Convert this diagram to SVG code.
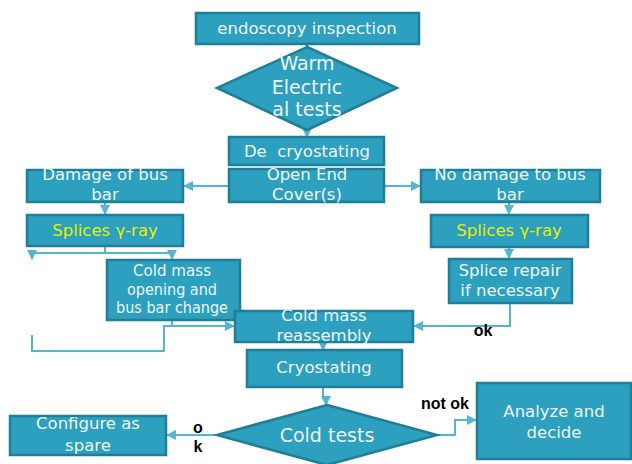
<svg xmlns="http://www.w3.org/2000/svg" width="632" height="464" viewBox="0 0 632 464">
<defs>
<style>
.box{fill:#2d9fbf;stroke:#1f7e98;stroke-width:2.5}
.t{font-family:"DejaVu Sans",Verdana,sans-serif;font-size:16.5px;fill:#eef7fa;text-anchor:middle}
.d{font-size:19px}
.y{fill:#e8f000}
.c{fill:none;stroke:#52b6d1;stroke-width:2}
.lbl{font-family:"Liberation Sans",Arial,sans-serif;font-weight:bold;font-size:16px;fill:#000}
</style>
<marker id="a" viewBox="0 0 10 10" refX="9" refY="5" markerWidth="5" markerHeight="5" orient="auto">
<path d="M0,0 L10,5 L0,10 z" fill="#52b6d1"/>
</marker>
</defs>
<rect width="632" height="464" fill="#fff"/>
<g id="connectors">
<path class="c" d="M307,44 V48" marker-end="url(#a)"/>
<path class="c" d="M307,130 V137" marker-end="url(#a)"/>
<path class="c" d="M229,186 H184" marker-end="url(#a)"/>
<path class="c" d="M384,186 H420" marker-end="url(#a)"/>
<path class="c" d="M105,202 V214" marker-end="url(#a)"/>
<path class="c" d="M509,202 V214" marker-end="url(#a)"/>
<path class="c" d="M105,246 V253 M32,253 H172"/>
<path class="c" d="M32,253 V259" marker-end="url(#a)"/>
<path class="c" d="M172,253 V259" marker-end="url(#a)"/>
<path class="c" d="M509,247 V258" marker-end="url(#a)"/>
<path class="c" d="M32,335 V351 H164 V326 H234" marker-end="url(#a)"/>
<path class="c" d="M172,320 V326"/>
<path class="c" d="M510,303 V326 H414" marker-end="url(#a)"/>
<path class="c" d="M323,342 V350" marker-end="url(#a)"/>
<path class="c" d="M323,387 V398 H326 V405" marker-end="url(#a)"/>
<path class="c" d="M217,435 H167" marker-end="url(#a)"/>
<path class="c" d="M437,435 H455 V420 H476" marker-end="url(#a)"/>
<text class="lbl" x="483" y="336" text-anchor="middle">ok</text>
<text class="lbl" x="198" y="433" text-anchor="middle">o</text>
<text class="lbl" x="198" y="452" text-anchor="middle">k</text>
<text class="lbl" x="445" y="409" text-anchor="middle">not ok</text>
</g>
<g id="endoscopy">
<rect class="box" x="196" y="13" width="223" height="31"/>
<text class="t" x="307" y="34">endoscopy inspection</text>
</g>
<g id="warm">
<polygon class="box" points="307,47 397,88 307,130 217,88"/>
<text class="t d" x="307" y="70">Warm</text>
<text class="t d" x="307" y="94">Electric</text>
<text class="t d" x="307" y="116">al tests</text>
</g>
<g id="decryo">
<rect class="box" x="229" y="137" width="155" height="28"/>
<text class="t" x="307" y="157">De&#160;&#160;cryostating</text>
</g>
<g id="openend">
<rect class="box" x="229" y="169" width="155" height="33"/>
<text class="t" x="307" y="180">Open End</text>
<text class="t" x="307" y="200">Cover(s)</text>
</g>
<g id="damage">
<rect class="box" x="27" y="170" width="156" height="32"/>
<text class="t" x="105" y="180">Damage of bus</text>
<text class="t" x="105" y="200">bar</text>
</g>
<g id="nodamage">
<rect class="box" x="421" y="170" width="179" height="32"/>
<text class="t" x="510" y="180">No damage to bus</text>
<text class="t" x="510" y="200">bar</text>
</g>
<g id="splicesL">
<rect class="box" x="27" y="215" width="156" height="31"/>
<text class="t y" x="105" y="236">Splices γ-ray</text>
</g>
<g id="splicesR">
<rect class="box" x="431" y="215" width="157" height="32"/>
<text class="t y" x="509" y="236">Splices γ-ray</text>
</g>
<g id="coldopen">
<rect class="box" x="107" y="260" width="133" height="60"/>
<text class="t" x="172" y="276" textLength="78" lengthAdjust="spacingAndGlyphs">Cold mass</text>
<text class="t" x="172" y="295" textLength="90" lengthAdjust="spacingAndGlyphs">opening and</text>
<text class="t" x="172" y="313" textLength="112" lengthAdjust="spacingAndGlyphs">bus bar change</text>
</g>
<g id="splicerepair">
<rect class="box" x="449" y="259" width="123" height="44"/>
<text class="t" x="510" y="276">Splice repair</text>
<text class="t" x="510" y="296">if necessary</text>
</g>
<g id="reassembly">
<rect class="box" x="235" y="311" width="178" height="31"/>
<text class="t" x="324" y="321">Cold mass</text>
<text class="t" x="324" y="341">reassembly</text>
</g>
<g id="cryostating">
<rect class="box" x="247" y="350" width="155" height="37"/>
<text class="t" x="324" y="373">Cryostating</text>
</g>
<g id="coldtests">
<polygon class="box" points="327,405 437,435 327,465 217,435"/>
<text class="t d" x="327" y="442">Cold tests</text>
</g>
<g id="spare">
<rect class="box" x="10" y="416" width="156" height="39"/>
<text class="t" x="88" y="429">Configure as</text>
<text class="t" x="88" y="451">spare</text>
</g>
<g id="analyze">
<rect class="box" x="477" y="383" width="154" height="76"/>
<text class="t" x="554" y="417">Analyze and</text>
<text class="t" x="554" y="438">decide</text>
</g>
</svg>
